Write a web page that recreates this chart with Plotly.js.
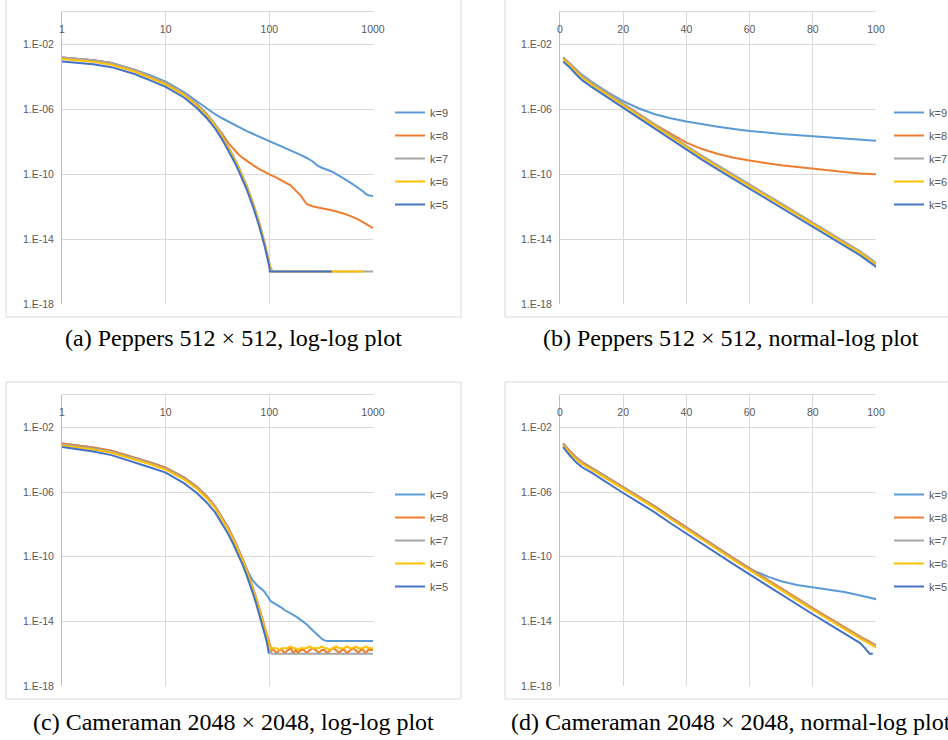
<!DOCTYPE html>
<html>
<head>
<meta charset="utf-8">
<script src="https://cdn.plot.ly/plotly-3.0.1.min.js"></script>
<style>
html,body{margin:0;padding:0;background:#ffffff;}
#chart{width:948px;height:740px;}
</style>
</head>
<body>
<div id="chart"></div>
<script>
// ---------------- DATA ----------------
const SERIES_NAMES = ['k=9', 'k=8', 'k=7', 'k=6', 'k=5'];

// Peppers 512 x 512: iteration index and residual per k
const P_X = [1,2,3,5,7,10,15,20,25,30,35,40,45,50,55,60,70,80,90,95,98,100,101,103,105,107,110,130,160,200,230,260,290,320,400,450,520,600,700,800,850,900,1000];
const P_K9 = [1.58e-3,1.05e-3,7.08e-4,2.82e-4,1.32e-4,5.01e-5,1.17e-5,3.16e-6,1.12e-6,5.01e-7,
  2.82e-7,1.78e-7,1.20e-7,8.32e-8,6.17e-8,4.68e-8,3.02e-8,2.09e-8,1.48e-8,1.26e-8,
  1.15e-8,1.10e-8,1.07e-8,1.02e-8,9.77e-9,9.33e-9,8.71e-9,
  5.62e-9,3.16e-9,1.58e-9,1.0e-9,6.31e-10,3.55e-10,2.51e-10,
  1.48e-10,1.0e-10,5.62e-11,3.16e-11,1.66e-11,8.91e-12,6.03e-12,5.01e-12,4.47e-12];
const P_K8 = [1.58e-3,1.07e-3,7.08e-4,2.69e-4,1.12e-4,4.27e-5,9.55e-6,2.14e-6,5.01e-7,1.17e-7,
  3.16e-8,8.91e-9,3.55e-9,1.78e-9,1.05e-9,6.92e-10,3.55e-10,2.09e-10,1.35e-10,1.12e-10,
  1.0e-10,9.33e-11,9.12e-11,8.71e-11,8.32e-11,7.94e-11,7.59e-11,
  4.47e-11,2.09e-11,5.01e-12,1.41e-12,1.07e-12,8.91e-13,7.94e-13,
  6.03e-13,5.01e-13,3.80e-13,2.69e-13,1.78e-13,1.10e-13,8.51e-14,6.92e-14,4.68e-14];
const P_K7 = [1.58e-3,1.07e-3,7.08e-4,2.69e-4,1.12e-4,4.27e-5,9.55e-6,2.14e-6,5.01e-7,1.17e-7,
  2.51e-8,5.62e-9,1.35e-9,3.39e-10,8.91e-11,2.34e-11,1.58e-12,1.07e-13,6.76e-15,1.78e-15,
  6.76e-16,3.55e-16,2.4e-16,1.66e-16,1.2e-16,1e-16,1e-16,
  1e-16,1e-16,1e-16,1e-16,1e-16,1e-16,1e-16,
  1e-16,1e-16,1e-16,1e-16,1e-16,1e-16,1e-16,1e-16,1e-16];
const P_K6 = [1.26e-3,8.51e-4,5.62e-4,2.14e-4,8.91e-5,3.39e-5,7.59e-6,1.70e-6,3.98e-7,9.33e-8,
  2.0e-8,4.47e-9,1.07e-9,2.69e-10,7.08e-11,1.86e-11,1.26e-12,8.51e-14,5.37e-15,1.41e-15,
  5.37e-16,2.82e-16,1.9e-16,1.3e-16,1e-16,1e-16,1e-16,
  1e-16,1e-16,1e-16,1e-16,1e-16,1e-16,1e-16,
  1e-16,1e-16,1e-16,1e-16,1e-16,1e-16,null,null,null];
const P_K5 = [8.91e-4,6.03e-4,3.98e-4,1.51e-4,6.31e-5,2.40e-5,5.37e-6,1.20e-6,2.82e-7,6.61e-8,
  1.41e-8,3.16e-9,7.59e-10,1.91e-10,5.01e-11,1.32e-11,8.91e-13,6.03e-14,3.80e-15,1.0e-15,
  3.80e-16,2.0e-16,1e-16,1e-16,1e-16,1e-16,1e-16,
  1e-16,1e-16,1e-16,1e-16,1e-16,1e-16,1e-16,
  1e-16,null,null,null,null,null,null,null,null];

// Cameraman 2048 x 2048
const C_X = [1,2,3,5,7,10,15,20,25,30,35,40,45,50,55,60,62,66,70,75,80,85,90,95,96,97,98,99,100,102,103,105,
  110,118,125,132,140,150,160,170,180,190,200,215,230,245,260,280,300,320,340,360,385,410,440,470,500,530,560,600,640,680,720,760,800,850,900,950,1000];
const C_K9_HEAD = [1.0e-3,5.62e-4,3.55e-4,1.41e-4,7.08e-5,3.16e-5,7.94e-6,2.09e-6,5.25e-7,1.32e-7,
  2.82e-8,6.31e-9,1.41e-9,3.31e-10,7.94e-11,1.91e-11,
  1.20e-11,5.62e-12,3.02e-12,1.78e-12,1.26e-12,9.55e-13,6.61e-13,3.98e-13,
  3.55e-13,3.16e-13,2.82e-13,2.51e-13,2.19e-13,1.91e-13,1.82e-13,1.66e-13];
const C_K9_TAIL = [1.41e-13,1.12e-13,8.91e-14,6.76e-14,5.01e-14,3.98e-14,3.16e-14,2.51e-14,2.0e-14,1.58e-14,
  1.26e-14,8.91e-15,6.31e-15,4.17e-15,2.82e-15,1.78e-15,1.20e-15,8.32e-16,6.61e-16,6.0e-16,
  6.0e-16,6.0e-16,6.0e-16,6.0e-16,6.0e-16,6.0e-16,6.0e-16,6.0e-16,6.0e-16,6.0e-16,
  6.0e-16,6.0e-16,6.0e-16,6.0e-16,6.0e-16,6.0e-16,6.0e-16];
const C_K8_HEAD = [1.0e-3,5.62e-4,3.55e-4,1.41e-4,7.08e-5,3.16e-5,7.94e-6,2.09e-6,5.25e-7,1.32e-7,
  2.82e-8,6.31e-9,1.41e-9,3.31e-10,7.94e-11,1.91e-11,
  1.07e-11,3.47e-12,1.12e-12,2.69e-13,6.61e-14,1.66e-14,4.17e-15,1.12e-15,
  8.91e-16,7.08e-16,5.62e-16,4.47e-16,3.31e-16,2.09e-16,1.66e-16,1.58e-16];
const C_K8_TAIL = [1.67e-16,1.1e-16,1.67e-16,1.67e-16,1.1e-16,1.67e-16,2.2e-16,1.1e-16,1.67e-16,1.1e-16,
  1.67e-16,1.67e-16,1.1e-16,1.67e-16,2.2e-16,1.67e-16,1.1e-16,1.67e-16,1.67e-16,1.1e-16,
  1.67e-16,2.2e-16,1.67e-16,1.1e-16,1.67e-16,1.67e-16,1.1e-16,1.67e-16,2.2e-16,1.67e-16,
  1.1e-16,1.67e-16,1.67e-16,1.1e-16,1.67e-16,1.67e-16,1.67e-16];
const C_K7_HEAD = [8.71e-4,4.90e-4,3.09e-4,1.23e-4,6.17e-5,2.75e-5,6.92e-6,1.82e-6,4.57e-7,1.15e-7,
  2.45e-8,5.50e-9,1.23e-9,2.88e-10,6.92e-11,1.66e-11,
  9.33e-12,3.02e-12,9.77e-13,2.34e-13,5.75e-14,1.45e-14,3.63e-15,9.77e-16,
  7.76e-16,6.17e-16,4.90e-16,3.89e-16,2.88e-16,1.58e-16,1.12e-16,1e-16];
const C_K7_TAIL = [1e-16,1e-16,1e-16,1e-16,1e-16,1e-16,1e-16,1e-16,1e-16,1e-16,
  1e-16,1e-16,1e-16,1e-16,1e-16,1e-16,1e-16,1e-16,1e-16,1e-16,
  1e-16,1e-16,1e-16,1e-16,1e-16,1e-16,1e-16,1e-16,1e-16,1e-16,
  1e-16,1e-16,1e-16,1e-16,1e-16,1e-16,1e-16];
const C_K6_HEAD = [7.59e-4,4.27e-4,2.69e-4,1.07e-4,5.37e-5,2.40e-5,6.03e-6,1.58e-6,3.98e-7,1.0e-7,
  2.14e-8,4.79e-9,1.07e-9,2.51e-10,6.03e-11,1.45e-11,
  8.13e-12,2.63e-12,8.51e-13,2.04e-13,5.01e-14,1.26e-14,3.16e-15,8.51e-16,
  6.76e-16,5.37e-16,4.27e-16,3.39e-16,2.51e-16,2.0e-16,1.9e-16,2.2e-16];
const C_K6_TAIL = [2.2e-16,2.2e-16,1.67e-16,2.2e-16,2.2e-16,2.2e-16,2.8e-16,2.2e-16,2.2e-16,1.67e-16,
  2.2e-16,2.2e-16,2.2e-16,2.8e-16,2.2e-16,2.2e-16,2.2e-16,2.8e-16,2.2e-16,2.2e-16,
  1.67e-16,2.2e-16,2.8e-16,2.2e-16,2.2e-16,2.2e-16,2.8e-16,2.2e-16,2.2e-16,2.8e-16,
  2.2e-16,2.2e-16,2.2e-16,2.8e-16,2.2e-16,2.2e-16,2.2e-16];
const C_K5_HEAD = [6.03e-4,3.16e-4,1.91e-4,7.08e-5,3.39e-5,1.58e-5,3.55e-6,8.71e-7,2.19e-7,5.50e-8,
  1.17e-8,2.63e-9,5.89e-10,1.38e-10,3.31e-11,7.94e-12,
  4.47e-12,1.45e-12,4.68e-13,1.12e-13,2.75e-14,6.92e-15,1.74e-15,4.47e-16,
  2.82e-16,1.58e-16,1e-16,1e-16,null,null,null,null];
const C_K5_TAIL = [null,null,null,null,null,null,null,null,null,null,
  null,null,null,null,null,null,null,null,null,null,
  null,null,null,null,null,null,null,null,null,null,
  null,null,null,null,null,null,null];

// Axis tick labels
const Y_TICK_VALS = [1e-2, 1e-6, 1e-10, 1e-14, 1e-18];
const Y_TICK_TEXT = ['1.E-02', '1.E-06', '1.E-10', '1.E-14', '1.E-18'];
const X_LOG_TICK_VALS = [1, 10, 100, 1000];
const X_LOG_TICK_TEXT = ['1', '10', '100', '1000'];
const X_LIN_TICK_VALS = [0, 20, 40, 60, 80, 100];
const X_LIN_TICK_TEXT = ['0', '20', '40', '60', '80', '100'];

const CAPTIONS = [
  '(a) Peppers 512 × 512, log-log plot',
  '(b) Peppers 512 × 512, normal-log plot',
  '(c) Cameraman 2048 × 2048, log-log plot',
  '(d) Cameraman 2048 × 2048, normal-log plot'
];

// ---------------- BUILD ----------------
const PEPPERS = {x: P_X, ys: [P_K9, P_K8, P_K7, P_K6, P_K5]};
const CAMERAMAN = {x: C_X, ys: [
  C_K9_HEAD.concat(C_K9_TAIL), C_K8_HEAD.concat(C_K8_TAIL), C_K7_HEAD.concat(C_K7_TAIL),
  C_K6_HEAD.concat(C_K6_TAIL), C_K5_HEAD.concat(C_K5_TAIL)]};

const COLORS = ['#5B9BD5', '#ED7D31', '#A5A5A5', '#FFC000', '#4472C4'];
const W = 948, H = 740;
const fx = v => v / W;
const fy = v => 1 - v / H;
const TICK_FONT = {family: 'Liberation Sans, Arial, sans-serif', size: 10.5, color: '#595959'};
const GRID = '#d9d9d9';

const PANELS = [
  {n: 1, set: PEPPERS,   log: true,  plot: [62, 12, 373, 304],  box: [6, -1, 461, 317],   legX: 390, legY: 158.5, cap: [233, 338]},
  {n: 2, set: PEPPERS,   log: false, plot: [560, 12, 876, 304], box: [505, -1, 965, 317], legX: 889, legY: 158.5, cap: [731, 338]},
  {n: 3, set: CAMERAMAN, log: true,  plot: [62, 395, 373, 686], box: [6, 382, 461, 699],  legX: 390, legY: 540.5, cap: [233, 722]},
  {n: 4, set: CAMERAMAN, log: false, plot: [560, 395, 876, 686],box: [505, 382, 965, 699],legX: 889, legY: 540.5, cap: [731, 722]}
];

const traces = [];
const layout = {
  width: W, height: H,
  margin: {l: 0, r: 0, t: 0, b: 0, autoexpand: false},
  paper_bgcolor: '#ffffff', plot_bgcolor: '#ffffff',
  showlegend: true,
  shapes: [], annotations: []
};

PANELS.forEach((p, pi) => {
  const xk = p.n === 1 ? 'xaxis' : 'xaxis' + p.n;
  const yk = p.n === 1 ? 'yaxis' : 'yaxis' + p.n;
  const xr = p.n === 1 ? 'x' : 'x' + p.n;
  const yr = p.n === 1 ? 'y' : 'y' + p.n;
  const lk = p.n === 1 ? 'legend' : 'legend' + p.n;

  p.set.ys.forEach((ys, si) => {
    traces.push({
      type: 'scatter', mode: 'lines',
      x: p.set.x, y: ys,
      xaxis: xr, yaxis: yr,
      name: SERIES_NAMES[si],
      legend: lk,
      legendgroup: 'g' + p.n + '_' + si,
      line: {color: COLORS[si], width: 2},
      connectgaps: false,
      hoverinfo: 'skip'
    });
  });

  layout[xk] = {
    domain: [fx(p.plot[0]), fx(p.plot[2])],
    anchor: yr,
    side: 'top',
    type: p.log ? 'log' : 'linear',
    range: p.log ? [0, 3] : [0, 100],
    tickvals: p.log ? X_LOG_TICK_VALS : X_LIN_TICK_VALS,
    ticktext: p.log ? X_LOG_TICK_TEXT : X_LIN_TICK_TEXT,
    showgrid: true, gridcolor: GRID, gridwidth: 1,
    showline: true, linecolor: GRID, linewidth: 1,
    zeroline: false, ticks: '',
    ticklabelposition: 'inside',
    ticklabeloverflow: 'allow',
    ticklabelstandoff: 13,
    tickfont: TICK_FONT,
    fixedrange: true
  };
  layout[yk] = {
    domain: [fy(p.plot[3]), fy(p.plot[1])],
    anchor: xr,
    type: 'log',
    range: [-18, 0],
    tickvals: Y_TICK_VALS,
    ticktext: Y_TICK_TEXT,
    showgrid: true, gridcolor: GRID, gridwidth: 1,
    showline: true, linecolor: '#bfbfbf', linewidth: 1,
    zeroline: false, ticks: '',
    ticklabelstandoff: 5,
    tickfont: TICK_FONT,
    fixedrange: true
  };
  layout[lk] = {
    x: fx(p.legX), xanchor: 'left',
    y: fy(p.legY), yanchor: 'middle',
    bgcolor: 'rgba(0,0,0,0)', borderwidth: 0,
    font: {family: 'Liberation Sans, Arial, sans-serif', size: 11, color: '#595959'},
    traceorder: 'grouped', tracegroupgap: 4,
    itemclick: false, itemdoubleclick: false
  };
  layout.shapes.push({
    type: 'rect', xref: 'paper', yref: 'paper', layer: 'below',
    x0: fx(p.box[0]), x1: fx(p.box[2]), y0: fy(p.box[3]), y1: fy(p.box[1]),
    line: {color: GRID, width: 1}, fillcolor: 'rgba(0,0,0,0)'
  });
  layout.annotations.push({
    xref: 'paper', yref: 'paper', showarrow: false,
    x: fx(p.cap[0]), y: fy(p.cap[1]), xanchor: 'center', yanchor: 'middle',
    text: CAPTIONS[pi],
    font: {family: 'Liberation Serif, Times New Roman, serif', size: 24, color: '#000000'}
  });
});

Plotly.newPlot('chart', traces, layout, {displayModeBar: false, staticPlot: true});
</script>
</body>
</html>
